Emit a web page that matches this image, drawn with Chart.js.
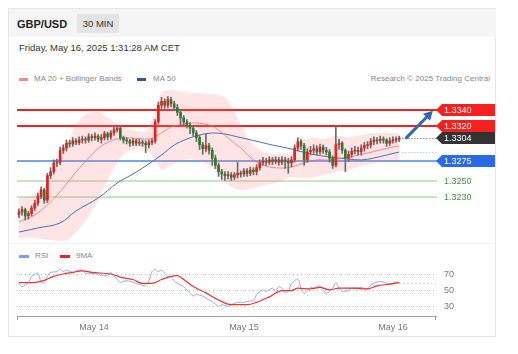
<!DOCTYPE html>
<html>
<head>
<meta charset="utf-8">
<script src="https://cdn.jsdelivr.net/npm/chart.js@4.4.1/dist/chart.umd.min.js"></script>
<style>
  body { margin: 0; background: #fff; font-family: "Liberation Sans", Arial, sans-serif; }
  #wrap { position: relative; width: 518px; height: 354px; overflow: hidden; }
  .card { position: absolute; left: 8px; top: 8px; width: 488px; height: 329px; border: 1px solid #e6e6e6; box-sizing: border-box; }
  .head { position: absolute; left: 9px; top: 9px; width: 487px; height: 28px; background: #f5f5f5; }
  .t { position: absolute; white-space: nowrap; }
  .title { left: 17px; top: 17px; font-size: 11px; font-weight: bold; color: #222; line-height: 14px; }
  .badge { left: 77px; top: 14px; width: 42px; height: 19px; line-height: 19px; text-align: center; background: #e4e4e4; font-size: 9.5px; color: #333; }
  .date { left: 19px; top: 42px; font-size: 9.5px; color: #333; line-height: 12px; }
  .leg { font-size: 8px; color: #888; line-height: 10px; }
  .sw { position: absolute; height: 3px; }
  .sep { position: absolute; left: 9px; top: 243px; width: 487px; height: 1px; background: #f2f2f2; }
  canvas { position: absolute; left: 0; }
</style>
</head>
<body>
<div id="wrap">
  <div class="card"></div>
  <div class="head"></div>
  <div class="t title">GBP/USD</div>
  <div class="t badge">30 MIN</div>
  <div class="t date">Friday, May 16, 2025 1:31:28 AM CET</div>

  <div class="sw" style="left:19px;top:78px;width:9px;background:#f28b8b"></div>
  <div class="t leg" style="left:34px;top:74px">MA 20 + Bollinger Bands</div>
  <div class="sw" style="left:137px;top:78px;width:9px;background:#2f5597"></div>
  <div class="t leg" style="left:153px;top:74px">MA 50</div>
  <div class="t leg" style="right:28px;top:74px">Research © 2025 Trading Central</div>

  <div class="sep"></div>
  <div class="sw" style="left:19px;top:255px;width:10px;background:#7f9ee8"></div>
  <div class="t leg" style="left:35px;top:251px">RSI</div>
  <div class="sw" style="left:60px;top:255px;width:10px;background:#f02020"></div>
  <div class="t leg" style="left:76px;top:251px">9MA</div>

  <canvas id="price" width="518" height="160" style="top:85px"></canvas>
  <canvas id="rsi" width="518" height="95" style="top:245px"></canvas>
</div>

<script>
// 30 min candles, index 0 = first bar on the left
const opens = [1.3208,1.3211,1.3214,1.3206,1.3209,1.3216,1.3222,1.3231,1.3239,1.3226,
  1.3257,1.3262,1.3273,1.3274,1.3289,1.3292,1.3298,1.3297,1.3301,1.3299,
  1.3302,1.3303,1.3302,1.3306,1.3305,1.3307,1.3303,1.3305,1.3310,1.3306,
  1.3311,1.3315,1.3317,1.3305,1.3302,1.3301,1.3298,1.3301,1.3298,1.3299,
  1.3298,1.3296,1.3299,1.3301,1.3325,1.3346,1.3351,1.3346,1.3353,1.3348,
  1.3343,1.3337,1.3330,1.3325,1.3321,1.3317,1.3311,1.3305,1.3296,1.3291,
  1.3295,1.3289,1.3279,1.3270,1.3262,1.3259,1.3257,1.3258,1.3255,1.3258,
  1.3260,1.3259,1.3263,1.3260,1.3264,1.3262,1.3267,1.3273,1.3275,1.3274,
  1.3277,1.3275,1.3277,1.3274,1.3277,1.3275,1.3273,1.3277,1.3292,1.3300,
  1.3295,1.3277,1.3287,1.3289,1.3291,1.3287,1.3293,1.3289,1.3287,1.3279,
  1.3270,1.3296,1.3298,1.3289,1.3279,1.3284,1.3288,1.3289,1.3287,1.3292,
  1.3295,1.3296,1.3300,1.3302,1.3301,1.3303,1.3302,1.3298,1.3301,1.3302,
  1.3303];
const highs = [1.3215,1.3218,1.3216,1.3212,1.3219,1.3226,1.3235,1.3243,1.3241,1.3260,
  1.3267,1.3277,1.3278,1.3293,1.3296,1.3302,1.3302,1.3305,1.3304,1.3306,
  1.3307,1.3306,1.3310,1.3309,1.3311,1.3309,1.3309,1.3313,1.3312,1.3314,
  1.3319,1.3321,1.3319,1.3307,1.3305,1.3303,1.3304,1.3303,1.3303,1.3302,
  1.3301,1.3302,1.3304,1.3328,1.3350,1.3356,1.3354,1.3357,1.3356,1.3351,
  1.3347,1.3341,1.3333,1.3328,1.3324,1.3320,1.3314,1.3308,1.3299,1.3310,
  1.3298,1.3292,1.3283,1.3273,1.3265,1.3262,1.3262,1.3261,1.3261,1.3274,
  1.3263,1.3266,1.3266,1.3268,1.3267,1.3271,1.3277,1.3280,1.3279,1.3281,
  1.3280,1.3281,1.3280,1.3281,1.3280,1.3279,1.3281,1.3296,1.3305,1.3303,
  1.3298,1.3291,1.3294,1.3296,1.3295,1.3297,1.3296,1.3293,1.3290,1.3282,
  1.3320,1.3303,1.3300,1.3291,1.3288,1.3292,1.3294,1.3293,1.3296,1.3299,
  1.3300,1.3304,1.3306,1.3305,1.3307,1.3306,1.3304,1.3305,1.3306,1.3306,
  1.3307];
const lows = [1.3204,1.3207,1.3201,1.3202,1.3206,1.3213,1.3219,1.3228,1.3222,1.3223,
  1.3253,1.3259,1.3268,1.3271,1.3285,1.3288,1.3293,1.3294,1.3296,1.3296,
  1.3298,1.3298,1.3299,1.3301,1.3302,1.3300,1.3298,1.3302,1.3302,1.3303,
  1.3308,1.3312,1.3302,1.3298,1.3297,1.3294,1.3295,1.3295,1.3295,1.3294,
  1.3286,1.3292,1.3296,1.3298,1.3322,1.3342,1.3342,1.3343,1.3344,1.3339,
  1.3333,1.3322,1.3321,1.3317,1.3310,1.3307,1.3300,1.3290,1.3284,1.3287,
  1.3284,1.3270,1.3266,1.3256,1.3252,1.3251,1.3253,1.3251,1.3252,1.3254,
  1.3255,1.3256,1.3256,1.3257,1.3258,1.3258,1.3264,1.3270,1.3270,1.3271,
  1.3271,1.3272,1.3270,1.3271,1.3266,1.3260,1.3268,1.3274,1.3288,1.3290,
  1.3270,1.3274,1.3283,1.3285,1.3283,1.3284,1.3285,1.3283,1.3274,1.3266,
  1.3268,1.3290,1.3285,1.3262,1.3275,1.3280,1.3284,1.3283,1.3283,1.3288,
  1.3291,1.3292,1.3296,1.3297,1.3298,1.3298,1.3294,1.3295,1.3298,1.3299,
  1.3300];
const closes = [1.3211,1.3214,1.3206,1.3209,1.3216,1.3222,1.3231,1.3239,1.3226,1.3257,
  1.3262,1.3273,1.3274,1.3289,1.3292,1.3298,1.3297,1.3301,1.3299,1.3302,
  1.3303,1.3302,1.3306,1.3305,1.3307,1.3303,1.3305,1.3310,1.3306,1.3311,
  1.3315,1.3317,1.3305,1.3302,1.3301,1.3298,1.3301,1.3298,1.3299,1.3298,
  1.3296,1.3299,1.3301,1.3325,1.3346,1.3351,1.3346,1.3353,1.3348,1.3343,
  1.3337,1.3330,1.3325,1.3321,1.3317,1.3311,1.3305,1.3296,1.3291,1.3295,
  1.3289,1.3279,1.3270,1.3262,1.3259,1.3257,1.3258,1.3255,1.3258,1.3260,
  1.3259,1.3263,1.3260,1.3264,1.3262,1.3267,1.3273,1.3275,1.3274,1.3277,
  1.3275,1.3277,1.3274,1.3277,1.3275,1.3273,1.3277,1.3292,1.3300,1.3295,
  1.3277,1.3287,1.3289,1.3291,1.3287,1.3293,1.3289,1.3287,1.3279,1.3270,
  1.3296,1.3298,1.3289,1.3279,1.3284,1.3288,1.3289,1.3287,1.3292,1.3295,
  1.3296,1.3300,1.3302,1.3301,1.3303,1.3302,1.3298,1.3301,1.3302,1.3303,
  1.3304];

// indicators at some bars
const bandIdx = [0,5,10,15,20,25,28,32,36,40,43,45,48,52,56,60,63,66,70,74,78,82,86,88,92,96,100,104,108,112,116,120];
const bandUpper = [1.32287,1.32338,1.32540,1.32957,1.33311,1.33375,1.33299,1.33198,1.33147,1.33134,
  1.33375,1.33615,1.33653,1.33628,1.33615,1.33602,1.33590,1.33526,1.33210,1.32957,
  1.32856,1.32844,1.32856,1.32983,1.33046,1.33033,1.33071,1.33059,1.33084,1.33109,
  1.33109,1.33109];
const bandLower = [1.31782,1.31782,1.31756,1.31756,1.31946,1.32262,1.32515,1.32793,1.32907,1.32894,
  1.32793,1.32641,1.32705,1.32768,1.32768,1.32705,1.32578,1.32452,1.32388,1.32414,
  1.32452,1.32490,1.32553,1.32540,1.32540,1.32578,1.32616,1.32641,1.32692,1.32730,
  1.32755,1.32768];
const ma20Idx = [0,5,10,14,18,22,26,31,36,41,44,48,52,56,60,63,66,70,74,78,82,86,90,94,98,102,106,110,114,118,120];
const ma20 = [1.31984,1.32072,1.32237,1.32414,1.32616,1.32793,1.32945,1.33033,1.33046,1.33033,
  1.33084,1.33185,1.33223,1.33236,1.33210,1.33147,1.33046,1.32920,1.32768,1.32692,
  1.32667,1.32679,1.32730,1.32768,1.32768,1.32793,1.32818,1.32856,1.32894,1.32932,
  1.32945];
const ma50Idx = [0,6,13,18,25,31,36,40,45,49,53,57,61,65,69,72,76,80,86,92,98,104,108,112,116,120];
const ma50 = [1.31857,1.31908,1.31971,1.32123,1.32287,1.32477,1.32591,1.32692,1.32831,1.32957,
  1.33033,1.33084,1.33109,1.33097,1.33059,1.33033,1.32995,1.32957,1.32907,1.32844,
  1.32806,1.32780,1.32768,1.32793,1.32831,1.32869];

const rsiIdx = [0,1,3,4,6,7,8,9,10,12,13,14,15,17,18,20,21,22,25,26,28,29,31,32,33,35,37,38,40,41,
  42,43,44,45,46,47,48,49,50,52,53,54,55,56,58,60,61,63,64,66,67,69,71,73,74,75,76,77,78,80,
  81,82,83,84,85,86,88,89,90,91,92,93,95,96,97,99,100,101,102,104,105,108,110,111,113,115,116,118,119,120];
const rsi = [58,54,59,67,71,59,59,67,72,73,76,73,75,72,74,75,71,71,70,68,68,72,63,59,61,61,58,57,55,61,
  73,76,73,75,71,66,67,61,58,54,50,46,42,44,42,37,35,29,31,29,31,34,34,36,36,44,48,50,48,52,
  48,54,52,46,48,58,64,52,45,48,53,52,55,50,45,52,59,52,48,49,52,53,51,56,60,60,58,58,60,58];
const rsiMaIdx = [0,4,8,11,14,17,20,23,29,33,36,39,42,45,48,50,52,55,59,63,67,72,75,79,83,86,88,92,95,98,101,105,110,113,117,120];
const rsiMa = [59,59,62,67,70,72,74,72,70,65,63,58,58,63,67,68,63,54,46,37,31,31,34,41,49,49,52,51,53,50,52,52,51,55,57,59];

const levels = [1.3340, 1.3320, 1.3275, 1.3250, 1.3230];
const lastPrice = 1.3304;
const rsiLevels = [70, 50, 30];
const dayTicks = [23.7, 71, 118];
const dayLabels = ['May 14', 'May 15', 'May 16'];
const arrowFrom = [122.3, 1.3305];
const arrowTo = [130.6, 1.3339];

// view range
const xMin = -0.6, xMax = 131.6;
const yMin = 1.31731, yMax = 1.33678;

const RED = '#f5201f', BLUE = '#2a6ae8', GREEN = '#3f9a3f';
const pts = (idx, vals) => idx.map((v, i) => ({ x: v, y: vals[i] }));

const bodies = opens.map((o, i) => ({ x: i, y: [o, closes[i]] }));
const wicks = lows.map((l, i) => ({ x: i, y: [l, highs[i]] }));
const bodyColors = opens.map((o, i) => closes[i] >= o ? '#e3221f' : '#2e7a30');

const priceExtras = {
  id: 'priceExtras',
  beforeDatasetsDraw(chart) {
    const { ctx, chartArea: a, scales: { y } } = chart;
    const cols = [RED, RED, '#77a3f0', '#b6dbb2', '#b6dbb2'];
    const widths = [2, 2, 2, 1.5, 1.5];
    ctx.save();
    levels.forEach((v, i) => {
      const py = Math.round(y.getPixelForValue(v));
      ctx.strokeStyle = cols[i];
      ctx.lineWidth = widths[i];
      ctx.beginPath();
      ctx.moveTo(a.left, py);
      ctx.lineTo(a.right + 1, py);
      ctx.stroke();
    });
    ctx.restore();
  },
  afterDraw(chart) {
    const { ctx, chartArea: a, scales: { x, y } } = chart;
    ctx.save();
    // dotted lines from the last bar
    const xs = x.getPixelForValue(opens.length);
    ctx.setLineDash([1, 2]);
    ctx.lineWidth = 1;
    ctx.strokeStyle = '#555';
    let py = Math.round(y.getPixelForValue(lastPrice)) + 0.5;
    ctx.beginPath(); ctx.moveTo(xs, py); ctx.lineTo(a.right, py); ctx.stroke();
    ctx.strokeStyle = '#9fb3dc';
    py = Math.round(y.getPixelForValue(ma50[ma50.length - 1])) + 0.5;
    ctx.beginPath(); ctx.moveTo(xs, py); ctx.lineTo(a.right, py); ctx.stroke();
    ctx.setLineDash([]);

    // arrow
    const x0 = x.getPixelForValue(arrowFrom[0]), y0 = y.getPixelForValue(arrowFrom[1]);
    const x1 = x.getPixelForValue(arrowTo[0]), y1 = y.getPixelForValue(arrowTo[1]);
    const ang = Math.atan2(y1 - y0, x1 - x0);
    const hl = 9, hw = 5;
    const bx = x1 - hl * Math.cos(ang), by = y1 - hl * Math.sin(ang);
    ctx.strokeStyle = '#2f67b7';
    ctx.fillStyle = '#2f67b7';
    ctx.lineWidth = 3;
    ctx.lineCap = 'round';
    ctx.beginPath(); ctx.moveTo(x0, y0); ctx.lineTo(bx, by); ctx.stroke();
    ctx.beginPath();
    ctx.moveTo(x1, y1);
    ctx.lineTo(bx + hw * Math.sin(ang), by - hw * Math.cos(ang));
    ctx.lineTo(bx - hw * Math.sin(ang), by + hw * Math.cos(ang));
    ctx.closePath(); ctx.fill();

    // price tags on the right
    const tags = [[levels[0], RED], [levels[1], RED], [lastPrice, '#333'], [levels[2], BLUE]];
    ctx.font = '9px "Liberation Sans", Arial, sans-serif';
    ctx.textBaseline = 'middle';
    const left = a.right, right = 495;
    tags.forEach(([v, c]) => {
      const cy = Math.round(y.getPixelForValue(v));
      ctx.fillStyle = c;
      ctx.beginPath();
      ctx.moveTo(left, cy);
      ctx.lineTo(left + 6, cy - 6);
      ctx.lineTo(right, cy - 6);
      ctx.lineTo(right, cy + 6);
      ctx.lineTo(left + 6, cy + 6);
      ctx.closePath(); ctx.fill();
      ctx.fillStyle = '#fff';
      ctx.fillText(v.toFixed(4), left + 8, cy + 0.5);
    });
    ctx.fillStyle = GREEN;
    [levels[3], levels[4]].forEach(v => {
      ctx.fillText(v.toFixed(4), left + 8, Math.round(y.getPixelForValue(v)) + 0.5);
    });
    ctx.restore();
  }
};

new Chart(document.getElementById('price'), {
  type: 'bar',
  data: {
    datasets: [
      { type: 'line', data: pts(bandIdx, bandUpper), borderWidth: 0, borderColor: 'rgba(0,0,0,0)', pointRadius: 0,
        tension: 0.35, fill: '+1', backgroundColor: 'rgba(250,120,120,0.2)', order: 6 },
      { type: 'line', data: pts(bandIdx, bandLower), borderWidth: 0, borderColor: 'rgba(0,0,0,0)', pointRadius: 0,
        tension: 0.35, fill: false, order: 6 },
      { type: 'line', data: pts(ma20Idx, ma20), borderColor: 'rgba(240,105,105,0.75)', borderWidth: 1, pointRadius: 0,
        tension: 0.35, fill: false, order: 4 },
      { type: 'line', data: pts(ma50Idx, ma50), borderColor: '#4d6fae', borderWidth: 1, pointRadius: 0,
        tension: 0.35, fill: false, order: 4 },
      { data: wicks, backgroundColor: '#6a6a6a', barThickness: 1, grouped: false, order: 2 },
      { data: bodies, backgroundColor: bodyColors, barThickness: 2, minBarLength: 1, grouped: false, order: 1 }
    ]
  },
  options: {
    responsive: false,
    animation: false,
    devicePixelRatio: 1,
    layout: { padding: { left: 17, right: 82, top: 3, bottom: 3 } },
    plugins: { legend: { display: false }, tooltip: { enabled: false } },
    scales: {
      x: { type: 'linear', min: xMin, max: xMax, display: false, offset: false },
      y: { min: yMin, max: yMax, display: false }
    }
  },
  plugins: [priceExtras]
});

const rsiExtras = {
  id: 'rsiExtras',
  beforeDatasetsDraw(chart) {
    const { ctx, chartArea: a, scales: { x, y } } = chart;
    ctx.save();
    ctx.setLineDash([1, 3]);
    ctx.lineWidth = 1;
    ctx.strokeStyle = '#b9b9b9';
    ctx.font = '9px "Liberation Sans", Arial, sans-serif';
    ctx.textBaseline = 'middle';
    ctx.fillStyle = '#777';
    rsiLevels.forEach(v => {
      const py = Math.round(y.getPixelForValue(v)) + 0.5;
      ctx.beginPath(); ctx.moveTo(a.left, py); ctx.lineTo(a.right, py); ctx.stroke();
      ctx.fillText(String(v), a.right + 8, py);
    });
    ctx.strokeStyle = '#9fb5e8';
    const py = Math.round(y.getPixelForValue(rsi[rsi.length - 1])) + 0.5;
    ctx.beginPath(); ctx.moveTo(x.getPixelForValue(rsiIdx[rsiIdx.length - 1]), py); ctx.lineTo(a.right, py); ctx.stroke();
    ctx.restore();
  },
  afterDraw(chart) {
    const { ctx, chartArea: a } = chart;
    ctx.save();
    ctx.strokeStyle = '#999';
    ctx.lineWidth = 1;
    [a.left + 0.5, a.right - 0.5].forEach(px => {
      ctx.beginPath(); ctx.moveTo(px, a.bottom); ctx.lineTo(px, a.bottom + 4); ctx.stroke();
    });
    ctx.restore();
  }
};

new Chart(document.getElementById('rsi'), {
  type: 'line',
  data: {
    datasets: [
      { data: pts(rsiMaIdx, rsiMa), borderColor: '#f03030', borderWidth: 1.2, pointRadius: 0,
        cubicInterpolationMode: 'monotone', order: 0 },
      { data: pts(rsiIdx, rsi), borderColor: '#8ea8ea', borderWidth: 1, pointRadius: 0, tension: 0.2, order: 1 }
    ]
  },
  options: {
    responsive: false,
    animation: false,
    devicePixelRatio: 1,
    layout: { padding: { left: 17, right: 82, top: 17, bottom: 0 } },
    plugins: { legend: { display: false }, tooltip: { enabled: false } },
    scales: {
      x: {
        type: 'linear', min: xMin, max: xMax,
        grid: { display: false, drawTicks: false },
        border: { color: '#a5a5a5', width: 1 },
        afterFit(s) { s.height = 24; },
        afterBuildTicks(s) { s.ticks = dayTicks.map(v => ({ value: v })); },
        ticks: {
          autoSkip: false, maxRotation: 0, padding: 6, color: '#777',
          font: { size: 9, family: '"Liberation Sans", Arial, sans-serif' },
          callback: (v, i) => dayLabels[i]
        }
      },
      y: { min: 16.67, max: 85.24, display: false }
    }
  },
  plugins: [rsiExtras]
});
</script>
</body>
</html>
